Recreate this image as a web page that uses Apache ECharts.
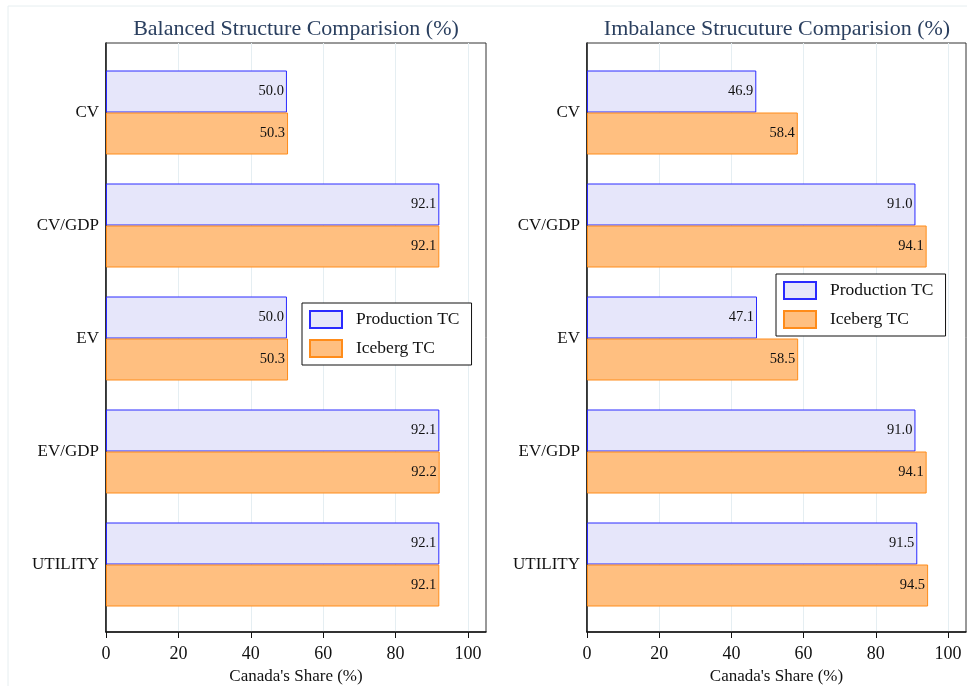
<!DOCTYPE html>
<html>
<head>
<meta charset="utf-8">
<script src="https://cdn.jsdelivr.net/npm/echarts@6/dist/echarts.min.js"></script>
<style>
  html, body { margin: 0; padding: 0; background: #fff; }
  #chart { width: 967px; height: 686px; }
</style>
</head>
<body>
<div id="chart"></div>
<script>
// 数据
var categories = ['CV', 'CV/GDP', 'EV', 'EV/GDP', 'UTILITY'];
var balancedProduction = [50.0, 92.1, 50.0, 92.1, 92.1];
var balancedIceberg = [50.3, 92.1, 50.3, 92.2, 92.1];
var imbalanceProduction = [46.9, 91.0, 47.1, 91.0, 91.5];
var imbalanceIceberg = [58.4, 94.1, 58.5, 94.1, 94.5];
var tickValues = [0, 20, 40, 60, 80, 100];

var serif = '"Liberation Serif", "DejaVu Serif", serif';
var prodStyle = { color: '#e6e6fa', borderColor: '#2a2aff', borderWidth: 1 };
var iceStyle = { color: '#ffbf80', borderColor: '#ff8c1a', borderWidth: 1 };

var myChart = echarts.init(document.getElementById('chart'));

// 两个面板: 外框 grid + 内部 grid (上下留白)
var panels = [
  { left: 106, right: 481 },
  { left: 587, right: 1 }
];

var grids = [], xAxes = [], yAxes = [];
panels.forEach(function (p, i) {
  grids.push({ left: p.left, right: p.right, top: 43, bottom: 54, show: true, borderColor: '#333', borderWidth: 1, outerBoundsMode: 'none' });
  grids.push({ left: p.left, right: p.right, top: 56, bottom: 65, outerBoundsMode: 'none' });
  xAxes.push({
    type: 'value', gridIndex: i * 2, min: 0, max: 105, interval: 20,
    name: "Canada's Share (%)", nameLocation: 'middle', nameGap: 36,
    nameTextStyle: { fontFamily: serif, fontSize: 17, color: '#111' },
    axisLine: { show: true, lineStyle: { color: '#111', width: 1.5 } },
    axisTick: { show: true, length: 6, lineStyle: { color: '#111' }, customValues: tickValues },
    axisLabel: { fontFamily: serif, fontSize: 18, color: '#111', margin: 13, customValues: tickValues },
    splitLine: { show: true, lineStyle: { color: '#e5eef2', width: 1 } }
  });
  xAxes.push({ type: 'value', gridIndex: i * 2 + 1, min: 0, max: 105, show: false });
  yAxes.push({
    type: 'value', gridIndex: i * 2, min: 0, max: 1,
    axisLine: { show: true, lineStyle: { color: '#111', width: 1.5 } },
    axisTick: { show: false }, axisLabel: { show: false }, splitLine: { show: false }
  });
  yAxes.push({
    type: 'category', gridIndex: i * 2 + 1, data: categories, inverse: true,
    axisLine: { show: false }, axisTick: { show: false },
    axisLabel: { fontFamily: serif, fontSize: 17, color: '#111', margin: 7 }
  });
});

function barSeries(name, data, style, axisIdx) {
  return {
    type: 'bar', name: name, data: data,
    xAxisIndex: axisIdx, yAxisIndex: axisIdx,
    barWidth: 42, barGap: '0%',
    itemStyle: style,
    label: {
      show: true, position: 'insideRight', distance: 3,
      formatter: function (p) { return p.value.toFixed(1); },
      fontFamily: serif, fontSize: 14.5, color: '#111'
    }
  };
}

var legendBase = {
  orient: 'vertical', icon: 'rect',
  padding: [7, 12, 7, 7], itemGap: 10, itemWidth: 32, itemHeight: 17,
  borderColor: '#111', borderWidth: 1, backgroundColor: '#fff',
  textStyle: { fontFamily: serif, fontSize: 17.5, color: '#111', padding: [0, 0, 0, 9] }
};

myChart.setOption({
  animation: false,
  backgroundColor: '#fff',
  title: [
    { text: 'Balanced Structure Comparision (%)', left: 291, top: 13, textAlign: 'center',
      textStyle: { fontFamily: serif, fontSize: 22, fontWeight: 'normal', color: '#2a3f5f' } },
    { text: 'Imbalance Strucuture Comparision (%)', left: 772, top: 13, textAlign: 'center',
      textStyle: { fontFamily: serif, fontSize: 22, fontWeight: 'normal', color: '#2a3f5f' } }
  ],
  legend: [
    Object.assign({}, legendBase, { data: ['Production TC', 'Iceberg TC'], left: 302, top: 303 }),
    Object.assign({}, legendBase, { data: ['Production TC ', 'Iceberg TC '], left: 776, top: 274,
      formatter: function (n) { return n.trim(); } })
  ],
  graphic: [
    { type: 'rect', shape: { x: 8, y: 6, width: 970, height: 700 }, silent: true,
      style: { fill: 'none', stroke: '#e6eef0', lineWidth: 1 } }
  ],
  grid: grids,
  xAxis: xAxes,
  yAxis: yAxes,
  series: [
    barSeries('Production TC', balancedProduction, prodStyle, 1),
    barSeries('Iceberg TC', balancedIceberg, iceStyle, 1),
    barSeries('Production TC ', imbalanceProduction, prodStyle, 3),
    barSeries('Iceberg TC ', imbalanceIceberg, iceStyle, 3)
  ]
});

window.onresize = function () { myChart.resize(); };
</script>
</body>
</html>
